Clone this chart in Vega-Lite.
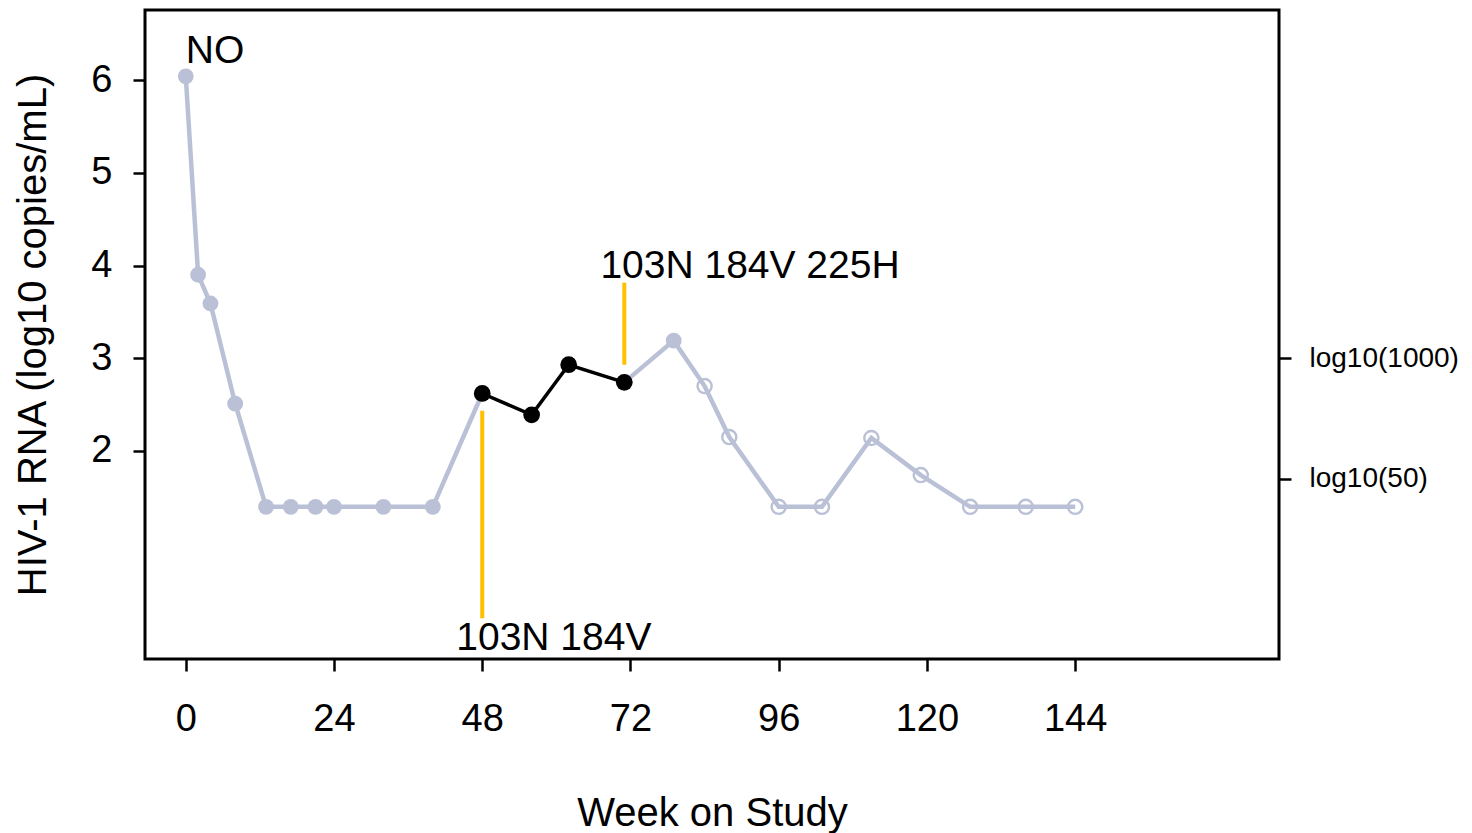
{
  "$schema": "https://vega.github.io/schema/vega-lite/v6.json",
  "autosize": "none",
  "width": 1134,
  "height": 649,
  "padding": {"left": 145, "top": 10, "right": 193, "bottom": 174},
  "background": "white",
  "config": {
    "view": {"stroke": "black", "strokeWidth": 3},
    "font": "Liberation Sans",
    "axis": {
      "domain": false,
      "grid": false,
      "tickColor": "black",
      "tickWidth": 2.5,
      "tickSize": 12,
      "labelColor": "black",
      "titleColor": "black",
      "labelFont": "Liberation Sans",
      "titleFont": "Liberation Sans",
      "titleFontWeight": "normal",
      "labelFontSize": 38,
      "titleFontSize": 40
    }
  },
  "datasets": {
    "pts": [
      {"week": 0, "rna": 6.04, "kind": "grey"},
      {"week": 2, "rna": 3.9, "kind": "grey"},
      {"week": 4, "rna": 3.59, "kind": "grey"},
      {"week": 8, "rna": 2.51, "kind": "grey"},
      {"week": 13, "rna": 1.398, "kind": "grey"},
      {"week": 17, "rna": 1.398, "kind": "grey"},
      {"week": 21, "rna": 1.398, "kind": "grey"},
      {"week": 24, "rna": 1.398, "kind": "grey"},
      {"week": 32, "rna": 1.398, "kind": "grey"},
      {"week": 40, "rna": 1.398, "kind": "grey"},
      {"week": 48, "rna": 2.62, "kind": "black"},
      {"week": 56, "rna": 2.39, "kind": "black"},
      {"week": 62, "rna": 2.93, "kind": "black"},
      {"week": 71, "rna": 2.74, "kind": "black"},
      {"week": 79, "rna": 3.19, "kind": "grey"},
      {"week": 84, "rna": 2.7, "kind": "open"},
      {"week": 88, "rna": 2.15, "kind": "open"},
      {"week": 96, "rna": 1.398, "kind": "open"},
      {"week": 103, "rna": 1.398, "kind": "open"},
      {"week": 111, "rna": 2.14, "kind": "open"},
      {"week": 119, "rna": 1.74, "kind": "open"},
      {"week": 127, "rna": 1.398, "kind": "open"},
      {"week": 136, "rna": 1.398, "kind": "open"},
      {"week": 144, "rna": 1.398, "kind": "open"}
    ],
    "lines": [
      {"seg": "g1", "week": 0, "rna": 6.04},
      {"seg": "g1", "week": 2, "rna": 3.9},
      {"seg": "g1", "week": 4, "rna": 3.59},
      {"seg": "g1", "week": 8, "rna": 2.51},
      {"seg": "g1", "week": 13, "rna": 1.398},
      {"seg": "g1", "week": 17, "rna": 1.398},
      {"seg": "g1", "week": 21, "rna": 1.398},
      {"seg": "g1", "week": 24, "rna": 1.398},
      {"seg": "g1", "week": 32, "rna": 1.398},
      {"seg": "g1", "week": 40, "rna": 1.398},
      {"seg": "g1", "week": 48, "rna": 2.62},
      {"seg": "k", "week": 48, "rna": 2.62},
      {"seg": "k", "week": 56, "rna": 2.39},
      {"seg": "k", "week": 62, "rna": 2.93},
      {"seg": "k", "week": 71, "rna": 2.74},
      {"seg": "g2", "week": 71, "rna": 2.74},
      {"seg": "g2", "week": 79, "rna": 3.19},
      {"seg": "g2", "week": 84, "rna": 2.7},
      {"seg": "g2", "week": 88, "rna": 2.15},
      {"seg": "g2", "week": 96, "rna": 1.398},
      {"seg": "g2", "week": 103, "rna": 1.398},
      {"seg": "g2", "week": 111, "rna": 2.14},
      {"seg": "g2", "week": 119, "rna": 1.74},
      {"seg": "g2", "week": 127, "rna": 1.398},
      {"seg": "g2", "week": 136, "rna": 1.398},
      {"seg": "g2", "week": 144, "rna": 1.398}
    ],
    "rules": [
      {"week": 48, "y1": 0.196, "y2": 2.434},
      {"week": 71, "y1": 2.93, "y2": 3.815}
    ],
    "labels": [
      {"week": 0, "y": 6.18, "text": "NO", "pos": "left"},
      {"week": 91.35, "y": 3.86, "text": "103N 184V 225H", "pos": "center"},
      {"week": 59.6, "y": -0.145, "text": "103N 184V", "pos": "center"}
    ],
    "refs": [
      {"v": 3},
      {"v": 1.69897}
    ]
  },
  "layer": [
    {
      "data": {"name": "lines"},
      "transform": [{"filter": "datum.seg != 'k'"}],
      "mark": {"type": "line", "color": "#BAC1D6", "strokeWidth": 4.5},
      "encoding": {
        "x": {
          "field": "week", "type": "quantitative",
          "scale": {"domain": [-6.6, 177], "nice": false, "zero": false},
          "axis": {"values": [0, 24, 48, 72, 96, 120, 144], "title": "Week on Study", "labelPadding": 29, "titlePadding": 55, "format": "d"}
        },
        "y": {
          "field": "rna", "type": "quantitative",
          "scale": {"domain": [-0.243, 6.755], "nice": false, "zero": false},
          "axis": {"values": [2, 3, 4, 5, 6], "title": "HIV-1 RNA (log10 copies/mL)", "labelPadding": 21, "titlePadding": 37, "format": "d"}
        },
        "detail": {"field": "seg"}
      }
    },
    {
      "data": {"name": "lines"},
      "transform": [{"filter": "datum.seg == 'k'"}],
      "mark": {"type": "line", "color": "black", "strokeWidth": 3.5},
      "encoding": {
        "x": {"field": "week", "type": "quantitative"},
        "y": {"field": "rna", "type": "quantitative", "axis": null}
      }
    },
    {
      "data": {"name": "rules"},
      "mark": {"type": "rule", "color": "#FFC000", "strokeWidth": 4},
      "encoding": {
        "x": {"field": "week", "type": "quantitative"},
        "y": {"field": "y1", "type": "quantitative", "axis": null},
        "y2": {"field": "y2"}
      }
    },
    {
      "data": {"name": "pts"},
      "transform": [{"filter": "datum.kind == 'grey'"}],
      "mark": {"type": "point", "filled": true, "color": "#BAC1D6", "size": 250, "opacity": 1},
      "encoding": {
        "x": {"field": "week", "type": "quantitative"},
        "y": {"field": "rna", "type": "quantitative", "axis": null}
      }
    },
    {
      "data": {"name": "pts"},
      "transform": [{"filter": "datum.kind == 'black'"}],
      "mark": {"type": "point", "filled": true, "color": "black", "size": 280, "opacity": 1},
      "encoding": {
        "x": {"field": "week", "type": "quantitative"},
        "y": {"field": "rna", "type": "quantitative", "axis": null}
      }
    },
    {
      "data": {"name": "pts"},
      "transform": [{"filter": "datum.kind == 'open'"}],
      "mark": {"type": "point", "filled": false, "color": "#BAC1D6", "size": 200, "strokeWidth": 2.4, "opacity": 1},
      "encoding": {
        "x": {"field": "week", "type": "quantitative"},
        "y": {"field": "rna", "type": "quantitative", "axis": null}
      }
    },
    {
      "data": {"name": "labels"},
      "transform": [{"filter": "datum.pos == 'left'"}],
      "mark": {"type": "text", "align": "left", "baseline": "alphabetic", "fontSize": 39, "font": "Liberation Sans", "color": "black"},
      "encoding": {
        "x": {"field": "week", "type": "quantitative"},
        "y": {"field": "y", "type": "quantitative", "axis": null},
        "text": {"field": "text"}
      }
    },
    {
      "data": {"name": "labels"},
      "transform": [{"filter": "datum.pos == 'center'"}],
      "mark": {"type": "text", "align": "center", "baseline": "alphabetic", "fontSize": 39, "font": "Liberation Sans", "color": "black"},
      "encoding": {
        "x": {"field": "week", "type": "quantitative"},
        "y": {"field": "y", "type": "quantitative", "axis": null},
        "text": {"field": "text"}
      }
    },
    {
      "data": {"name": "refs"},
      "mark": {"type": "rule", "opacity": 0},
      "encoding": {
        "y": {
          "field": "v", "type": "quantitative",
          "axis": {"orient": "right", "values": [3, 1.69897], "title": null, "labelExpr": "datum.value == 3 ? 'log10(1000)' : 'log10(50)'", "labelFontSize": 28, "labelPadding": 18}
        }
      }
    }
  ],
  "resolve": {"axis": {"y": "independent"}}
}
